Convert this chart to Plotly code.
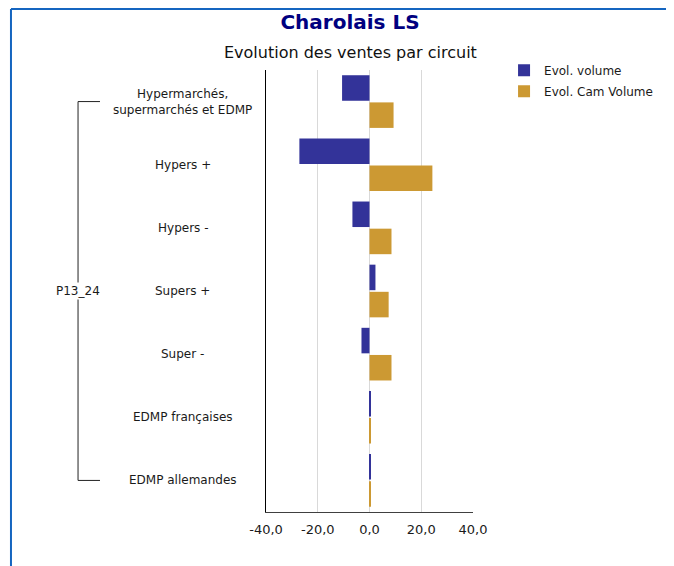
"""Charolais LS - evolution des ventes par circuit."""

import plotly.graph_objects as go

# data
categories = [
    "Hypermarchés,<br>supermarchés et EDMP",
    "Hypers +",
    "Hypers -",
    "Supers +",
    "Super -",
    "EDMP françaises",
    "EDMP allemandes",
]
evol_volume = [-10.6, -27.1, -6.6, 2.3, -3.1, 0.3, 0.3]
evol_cam_volume = [9.3, 24.3, 8.5, 7.4, 8.5, 0.3, 0.3]
group_label = "P13_24"
x_ticks = [-40, -20, 0, 20, 40]
x_tick_text = ["-40,0", "-20,0", "0,0", "20,0", "40,0"]

FONT = "DejaVu Sans"
BLUE = "#333399"
GOLD = "#CC9933"
FRAME = "#1565C0"
TEXT = "#1a1a1a"

# the page puts the figure 8px in from the corner, so size it to fit the window
W, H = 666, 558

fig = go.Figure()
fig.add_trace(go.Bar(
    y=categories,
    x=evol_volume,
    orientation="h",
    name="Evol. volume",
    legendgroup="vol",
    marker=dict(color=BLUE, line=dict(width=0)),
))
fig.add_trace(go.Bar(
    y=categories,
    x=evol_cam_volume,
    orientation="h",
    name="Evol. Cam Volume",
    legendgroup="cam",
    marker=dict(color=GOLD, line=dict(width=0)),
))

# category labels, centred like the original
for cat in categories:
    fig.add_annotation(
        x=-0.401, xref="paper", y=cat, yref="y",
        text=cat, showarrow=False, xanchor="center", yanchor="middle",
        font=dict(family=FONT, size=12, color=TEXT),
    )

# group bracket
bracket = dict(type="line", xref="paper", yref="y", line=dict(color="#222222", width=1))
fig.add_shape(**bracket, x0=-0.908, x1=-0.908, y0=0, y1=6)
fig.add_shape(**bracket, x0=-0.908, x1=-0.802, y0=0, y1=0)
fig.add_shape(**bracket, x0=-0.908, x1=-0.802, y0=6, y1=6)
fig.add_annotation(
    x=-0.908, xref="paper", y=3, yref="y",
    text=group_label, showarrow=False, xanchor="center", yanchor="middle",
    bgcolor="white", font=dict(family=FONT, size=12, color=TEXT),
)

# subtitle
fig.add_annotation(
    x=0.41, xref="paper", y=1.0385, yref="paper",
    text="Evolution des ventes par circuit", showarrow=False,
    xanchor="center", yanchor="middle",
    font=dict(family=FONT, size=16, color="#111111"),
)

# blue frame
frame = dict(type="line", xref="paper", yref="paper", line=dict(color=FRAME, width=2))
fig.add_shape(**frame, x0=-1.232, x1=-1.232, y0=-0.2, y1=1.138)
fig.add_shape(**frame, x0=-1.232, x1=2.0, y0=1.138, y1=1.138)

fig.update_layout(
    width=W,
    height=H,
    margin=dict(l=258, r=201, t=62, b=54, autoexpand=False),
    paper_bgcolor="white",
    plot_bgcolor="white",
    barmode="group",
    bargap=0.14,
    bargroupgap=0.06,
    font=dict(family=FONT, size=12, color=TEXT),
    title=dict(
        text="<b>Charolais LS</b>",
        x=342 / W, xanchor="center", y=1 - 14 / H, yanchor="middle",
        font=dict(family=FONT, size=20, color="#000080"),
    ),
    legend=dict(
        x=1.15, y=1.032, xanchor="left", yanchor="top",
        font=dict(family=FONT, size=12, color=TEXT),
        itemwidth=30, tracegroupgap=2,
    ),
    xaxis=dict(
        range=[-40, 40],
        tickvals=x_ticks,
        ticktext=x_tick_text,
        showgrid=True,
        gridcolor="#d9d9d9",
        gridwidth=1,
        zeroline=False,
        showline=True,
        linecolor="#404040",
        linewidth=1,
        ticks="",
        ticklabelstandoff=5,
        tickfont=dict(family=FONT, size=13, color=TEXT),
    ),
    yaxis=dict(
        autorange="reversed",
        showticklabels=False,
        showgrid=False,
        showline=True,
        linecolor="#000000",
        linewidth=1,
        ticks="",
    ),
    showlegend=True,
)

fig.write_html("out.html")
